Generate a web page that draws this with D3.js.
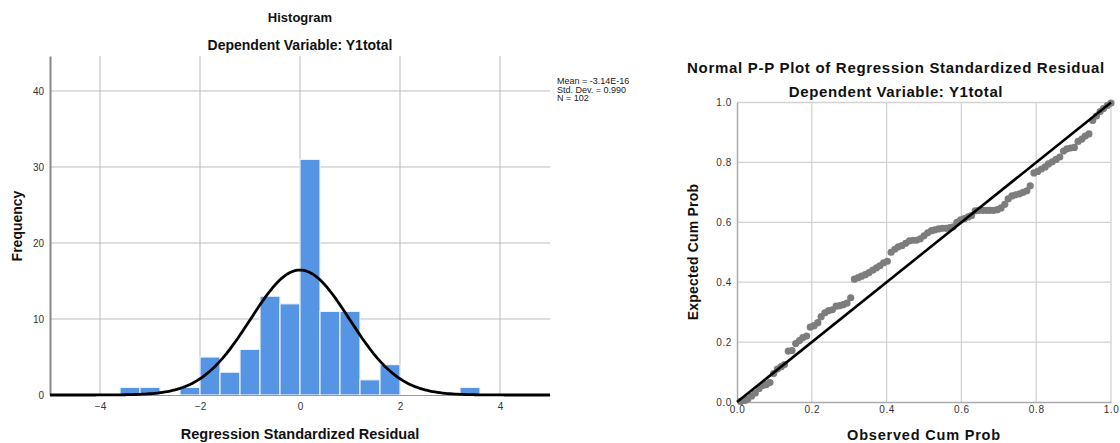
<!DOCTYPE html>
<html>
<head>
<meta charset="utf-8">
<script src="https://cdn.jsdelivr.net/npm/d3@7"></script>
<style>
  body { margin: 0; background: #fff; }
  svg text { font-family: "Liberation Sans", Arial, sans-serif; }
  .title { font-weight: bold; font-size: 14px; fill: #111; }
  .axtitle { font-weight: bold; font-size: 14px; fill: #111; }
  .tick text { font-size: 10px; fill: #333; }
</style>
</head>
<body>
<svg id="chart" width="1120" height="443"></svg>
<script>
// histogram data (bin width 0.4)
var binStarts = [-3.6, -3.2, -2.4, -2.0, -1.6, -1.2, -0.8, -0.4, 0.0, 0.4, 0.8, 1.2, 1.6, 3.2]
var binCounts = [1, 1, 1, 5, 3, 6, 13, 12, 31, 11, 11, 2, 4, 1]
var binWidth = 0.4
var histMean = 0, histSd = 0.990, histN = 102
var legendLines = ["Mean = -3.14E-16", "Std. Dev. = 0.990", "N = 102"]
var histXTicks = [-4, -2, 0, 2, 4]
var histYTicks = [0, 10, 20, 30, 40]

// P-P plot data
var obsCum = [0.010, 0.020, 0.029, 0.039, 0.049, 0.059, 0.069, 0.078, 0.088, 0.098,
  0.108, 0.118, 0.127, 0.137, 0.147, 0.157, 0.167, 0.176, 0.186, 0.196,
  0.206, 0.216, 0.225, 0.235, 0.245, 0.255, 0.265, 0.275, 0.284, 0.294,
  0.304, 0.314, 0.324, 0.333, 0.343, 0.353, 0.363, 0.373, 0.382, 0.392,
  0.402, 0.412, 0.422, 0.431, 0.441, 0.451, 0.461, 0.471, 0.480, 0.490,
  0.500, 0.510, 0.520, 0.529, 0.539, 0.549, 0.559, 0.569, 0.578, 0.588,
  0.598, 0.608, 0.618, 0.627, 0.637, 0.647, 0.657, 0.667, 0.676, 0.686,
  0.696, 0.706, 0.716, 0.725, 0.735, 0.745, 0.755, 0.765, 0.775, 0.784,
  0.794, 0.804, 0.814, 0.824, 0.833, 0.843, 0.853, 0.863, 0.873, 0.882,
  0.892, 0.902, 0.912, 0.922, 0.931, 0.941, 0.951, 0.961, 0.971, 0.980,
  0.990, 1.000]
var expCum = [0.002, 0.005, 0.010, 0.020, 0.030, 0.045, 0.055, 0.058, 0.065, 0.095,
  0.110, 0.118, 0.125, 0.170, 0.172, 0.195, 0.205, 0.215, 0.220, 0.250,
  0.255, 0.265, 0.285, 0.298, 0.305, 0.308, 0.320, 0.322, 0.325, 0.330,
  0.348, 0.410, 0.415, 0.420, 0.425, 0.432, 0.440, 0.448, 0.455, 0.465,
  0.470, 0.500, 0.510, 0.518, 0.522, 0.530, 0.538, 0.540, 0.540, 0.545,
  0.555, 0.565, 0.572, 0.575, 0.578, 0.580, 0.580, 0.582, 0.585, 0.600,
  0.608, 0.612, 0.618, 0.622, 0.638, 0.640, 0.640, 0.640, 0.640, 0.640,
  0.642, 0.648, 0.660, 0.678, 0.688, 0.692, 0.695, 0.700, 0.705, 0.722,
  0.765, 0.770, 0.778, 0.785, 0.795, 0.802, 0.810, 0.818, 0.838, 0.845,
  0.848, 0.850, 0.870, 0.878, 0.888, 0.895, 0.940, 0.955, 0.970, 0.980,
  0.990, 0.998]
var ppTicks = [0, 0.2, 0.4, 0.6, 0.8, 1.0]

var svg = d3.select("#chart")

// ---------------- Histogram ----------------
var hx = d3.scaleLinear().domain([-5, 5]).range([50, 550])
var hy = d3.scaleLinear().domain([0, 44.6]).range([395, 56])

var hist = svg.append("g")

// vertical grid
hist.selectAll(".vgrid")
    .data(histXTicks)
    .enter()
    .append("line")
    .attr("x1", d => hx(d)).attr("x2", d => hx(d))
    .attr("y1", hy(44.6)).attr("y2", hy(0))
    .style("stroke", "#dcdcdc")
    .style("stroke-width", 2)

// horizontal grid
hist.selectAll(".hgrid")
    .data(histYTicks.slice(1))
    .enter()
    .append("line")
    .attr("x1", hx(-5)).attr("x2", hx(5))
    .attr("y1", d => hy(d)).attr("y2", d => hy(d))
    .style("stroke", "#bdbdbd")
    .style("stroke-width", 1)

// bars
hist.selectAll(".bar")
    .data(binStarts)
    .enter()
    .append("rect")
    .attr("x", d => hx(d))
    .attr("y", (d, i) => hy(binCounts[i]))
    .attr("width", hx(binWidth) - hx(0))
    .attr("height", (d, i) => hy(0) - hy(binCounts[i]))
    .style("fill", "#5595e4")
    .style("stroke", "#eef3fb")
    .style("stroke-width", 1.2)

// axes
var hxAxis = d3.axisBottom(hx).tickValues(histXTicks).tickSize(0).tickPadding(8)
var hxg = hist.append("g").attr("transform", "translate(0," + hy(0) + ")").call(hxAxis)
hxg.select(".domain").style("stroke", "#999")
var hyAxis = d3.axisLeft(hy).tickValues(histYTicks).tickSize(0).tickPadding(6)
var hyg = hist.append("g").attr("transform", "translate(" + hx(-5) + ",0)").call(hyAxis)
hyg.select(".domain").style("stroke", "#888").style("stroke-width", 2)

// normal curve from mean / sd / N
var curveX = d3.range(-5, 5.001, 0.05)
var scaleK = histN * binWidth / (histSd * Math.sqrt(2 * Math.PI))
var normLine = d3.line()
    .x(d => hx(d))
    .y(d => hy(scaleK * Math.exp(-0.5 * Math.pow((d - histMean) / histSd, 2))))
hist.append("path")
    .datum(curveX)
    .attr("d", normLine)
    .style("fill", "none")
    .style("stroke", "#000")
    .style("stroke-width", 2.8)

// legend text
hist.selectAll(".leg")
    .data(legendLines)
    .enter()
    .append("text")
    .attr("x", 557)
    .attr("y", (d, i) => 84 + i * 8.6)
    .style("font-size", "9px")
    .style("fill", "#222")
    .text(d => d)

// titles
svg.append("text").attr("class", "title").attr("x", 300).attr("y", 22)
    .attr("text-anchor", "middle").style("font-size", "13px").text("Histogram")
svg.append("text").attr("class", "title").attr("x", 300).attr("y", 50)
    .attr("text-anchor", "middle").text("Dependent Variable: Y1total")
svg.append("text").attr("class", "axtitle").attr("x", 300).attr("y", 439)
    .attr("text-anchor", "middle").style("font-size", "14.5px").text("Regression Standardized Residual")
svg.append("text").attr("class", "axtitle")
    .attr("transform", "translate(22,226) rotate(-90)")
    .attr("text-anchor", "middle").text("Frequency")

// ---------------- P-P Plot ----------------
var px = d3.scaleLinear().domain([0, 1]).range([737, 1111])
var py = d3.scaleLinear().domain([0, 1]).range([402, 102.5])

var pp = svg.append("g")

pp.selectAll(".pvgrid")
    .data(ppTicks.slice(1))
    .enter()
    .append("line")
    .attr("x1", d => px(d)).attr("x2", d => px(d))
    .attr("y1", py(0)).attr("y2", py(1))
    .style("stroke", "#d2d2d2")
    .style("stroke-width", 1.3)
pp.selectAll(".phgrid")
    .data(ppTicks.slice(1))
    .enter()
    .append("line")
    .attr("x1", px(0)).attr("x2", px(1))
    .attr("y1", d => py(d)).attr("y2", d => py(d))
    .style("stroke", "#d2d2d2")
    .style("stroke-width", 1.3)

var pxAxis = d3.axisBottom(px).tickValues(ppTicks).tickFormat(d3.format(".1f")).tickSize(0).tickPadding(4)
var pxg = pp.append("g").attr("transform", "translate(0," + py(0) + ")").call(pxAxis)
pxg.select(".domain").style("stroke", "#aaa").style("stroke-width", 1.5)
var pyAxis = d3.axisLeft(py).tickValues(ppTicks).tickFormat(d3.format(".1f")).tickSize(0).tickPadding(5)
var pyg = pp.append("g").attr("transform", "translate(" + px(0) + ",0)").call(pyAxis)
pyg.select(".domain").style("stroke", "#aaa").style("stroke-width", 1.5)
pp.selectAll(".tick text").style("letter-spacing", "0.6px")

// points
pp.selectAll(".pt")
    .data(obsCum)
    .enter()
    .append("circle")
    .attr("cx", d => px(d))
    .attr("cy", (d, i) => py(expCum[i]))
    .attr("r", 3.6)
    .style("fill", "#7d7d7d")

// reference line
pp.append("line")
    .attr("x1", px(0)).attr("y1", py(0))
    .attr("x2", px(1)).attr("y2", py(1))
    .style("stroke", "#000")
    .style("stroke-width", 2.6)

svg.append("text").attr("class", "title").attr("x", 896).attr("y", 73)
    .attr("text-anchor", "middle").style("font-size", "15px").style("letter-spacing", "0.7px")
    .text("Normal P-P Plot of Regression Standardized Residual")
svg.append("text").attr("class", "title").attr("x", 896).attr("y", 97)
    .attr("text-anchor", "middle").style("font-size", "15px").style("letter-spacing", "0.6px")
    .text("Dependent Variable: Y1total")
svg.append("text").attr("class", "axtitle").attr("x", 924).attr("y", 440)
    .attr("text-anchor", "middle").style("font-size", "14.5px").style("letter-spacing", "0.8px")
    .text("Observed Cum Prob")
svg.append("text").attr("class", "axtitle")
    .attr("transform", "translate(698,252) rotate(-90)")
    .attr("text-anchor", "middle").style("letter-spacing", "0.2px")
    .text("Expected Cum Prob")
</script>
</body>
</html>
